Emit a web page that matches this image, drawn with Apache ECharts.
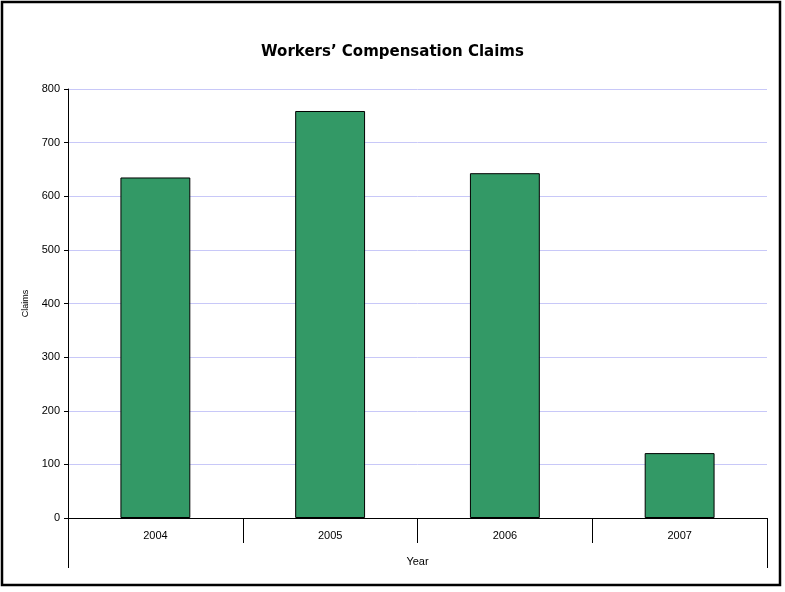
<!DOCTYPE html>
<html>
<head>
<meta charset="utf-8">
<style>html,body{margin:0;padding:0;background:#fff}#c{width:785px;height:592px}</style>
<script src="https://cdn.jsdelivr.net/npm/echarts@6/dist/echarts.min.js"></script>
</head>
<body>
<div id="c"></div>
<script>
var categories = ['2004', '2005', '2006', '2007'];
var claims = [635, 759, 643, 121];
var yTicks = { min: 0, max: 800, interval: 100 };

var chart = echarts.init(document.getElementById('c'), null, { renderer: 'canvas' });
chart.setOption({
  animation: false,
  backgroundColor: '#fff',
  title: {
    text: 'Workers\u2019 Compensation Claims',
    left: 'center',
    top: 40,
    textStyle: { fontFamily: 'DejaVu Sans', fontWeight: 'bold', fontSize: 15, color: '#000' }
  },
  graphic: [{
    type: 'rect',
    shape: { x: 2, y: 2, width: 778, height: 583 },
    style: { fill: 'none', stroke: '#000', lineWidth: 2.5 },
    silent: true
  }],
  grid: { left: 68, right: 18, top: 89, bottom: 74 },
  xAxis: [{
    type: 'category',
    data: categories,
    boundaryGap: true,
    name: 'Year',
    nameLocation: 'middle',
    nameGap: 38,
    nameTextStyle: { fontFamily: 'Liberation Sans', fontSize: 11, color: '#000', verticalAlign: 'top' },
    axisLine: { lineStyle: { color: '#000', width: 1 } },
    axisTick: { show: true, inside: false, length: 25, alignWithLabel: false, lineStyle: { color: '#000' } },
    axisLabel: { fontFamily: 'Liberation Sans', fontSize: 11, color: '#000', margin: 12 },
    splitLine: { show: false }
  }, {
    type: 'category',
    data: [''],
    position: 'bottom',
    boundaryGap: true,
    axisLine: { show: false },
    axisTick: { show: true, length: 50, lineStyle: { color: '#000' } },
    axisLabel: { show: false },
    splitLine: { show: false }
  }],
  yAxis: {
    type: 'value',
    min: yTicks.min,
    max: yTicks.max,
    interval: yTicks.interval,
    name: 'Claims',
    nameLocation: 'middle',
    nameGap: 38,
    nameRotate: 90,
    nameTextStyle: { fontFamily: 'Liberation Sans', fontSize: 9, color: '#000' },
    axisLine: { show: true, lineStyle: { color: '#000', width: 1 } },
    axisTick: { show: true, inside: false, length: 4, lineStyle: { color: '#000' } },
    axisLabel: { fontFamily: 'Liberation Sans', fontSize: 11, color: '#000', margin: 8 },
    splitLine: { show: true, lineStyle: { color: '#c8c8f8', width: 1 } }
  },
  series: [{
    type: 'bar',
    data: claims,
    xAxisIndex: 0,
    barWidth: '40%',
    itemStyle: { color: '#339966', borderColor: '#000', borderWidth: 1 }
  }]
});
</script>
</body>
</html>
